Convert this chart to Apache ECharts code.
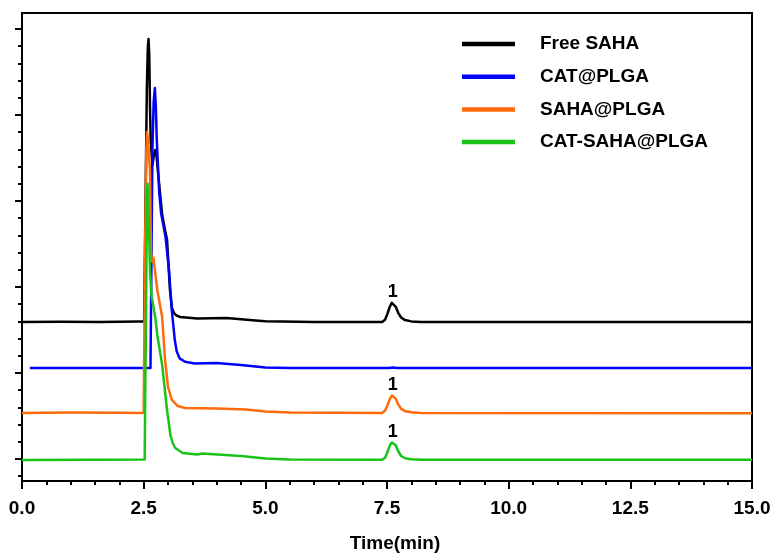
<!DOCTYPE html>
<html>
<head>
<meta charset="utf-8">
<script src="https://cdn.jsdelivr.net/npm/echarts@6/dist/echarts.min.js"></script>
<style>html,body{margin:0;padding:0;background:#fff}#c{width:773px;height:554px}</style>
</head>
<body>
<div id="c"></div>
<script>
// Series names (legend order)
const seriesNames = ['Free SAHA', 'CAT@PLGA', 'SAHA@PLGA', 'CAT-SAHA@PLGA'];
const seriesColors = ['#000000', '#0000ff', '#ff6a0a', '#18c418'];

// Time (min) / relative signal (stacked offsets, arbitrary units)
const freeSahaData = [
  [0, 1.593], [0.8, 1.596], [1.6, 1.593], [2.4, 1.598], [2.51, 1.598],
  [2.53, 2.6], [2.565, 4.3], [2.585, 4.78], [2.60, 4.884], [2.615, 4.7], [2.63, 4.1], [2.645, 3.7],
  [2.68, 3.42], [2.715, 3.55], [2.74, 3.593], [2.765, 3.52], [2.80, 3.30], [2.88, 2.84], [2.94, 2.66],
  [2.98, 2.55], [3.04, 1.965], [3.08, 1.756], [3.12, 1.70], [3.17, 1.67], [3.25, 1.651],
  [3.6, 1.634], [4.2, 1.64], [4.8, 1.61], [5.0, 1.602], [6.0, 1.593],
  [7.40, 1.593], [7.46, 1.62], [7.51, 1.69], [7.56, 1.775], [7.60, 1.815], [7.62, 1.822], [7.64, 1.815],
  [7.68, 1.77], [7.73, 1.70], [7.79, 1.645], [7.87, 1.615], [8.0, 1.600], [8.2, 1.593], [11, 1.593], [15, 1.593]
];
const catPlgaData = [
  [0.16, 1.058], [1.2, 1.058], [2.64, 1.058], [2.655, 2.0], [2.68, 3.6], [2.705, 4.15],
  [2.73, 4.314], [2.75, 4.1], [2.77, 3.7], [2.82, 3.1], [2.86, 2.85], [2.95, 2.58],
  [3.02, 2.2], [3.08, 1.72], [3.14, 1.38], [3.18, 1.25], [3.24, 1.17], [3.35, 1.13],
  [3.55, 1.11], [4.0, 1.116], [4.5, 1.093], [5.0, 1.064], [5.5, 1.058],
  [7.55, 1.058], [7.62, 1.065], [7.7, 1.058], [15, 1.058]
];
const sahaPlgaData = [
  [0, 0.535], [1.0, 0.540], [2.0, 0.537], [2.50, 0.535], [2.53, 2.5], [2.555, 3.6],
  [2.57, 3.802], [2.59, 3.7], [2.63, 3.36], [2.65, 2.40], [2.68, 2.29], [2.70, 2.34], [2.72, 2.36],
  [2.78, 1.965], [2.88, 1.651], [2.94, 1.151], [3.0, 0.837], [3.08, 0.686],
  [3.2, 0.616], [3.35, 0.593], [4.0, 0.587], [4.6, 0.576], [5.0, 0.552],
  [5.5, 0.541], [7.40, 0.535], [7.46, 0.56], [7.51, 0.625], [7.56, 0.70], [7.60, 0.738], [7.62, 0.744],
  [7.64, 0.738], [7.68, 0.70], [7.73, 0.635], [7.79, 0.585], [7.87, 0.556], [8.0, 0.543], [8.2, 0.535], [15, 0.532]
];
const catSahaPlgaData = [
  [0, -0.012], [1.5, -0.008], [2.52, -0.005], [2.545, 1.5], [2.57, 3.1], [2.58, 3.20],
  [2.60, 2.9], [2.63, 2.2], [2.66, 1.90], [2.70, 1.77], [2.74, 1.64],
  [2.78, 1.442], [2.88, 1.093], [2.98, 0.570], [3.05, 0.279], [3.10, 0.18], [3.15, 0.128],
  [3.3, 0.07], [3.6, 0.052], [3.7, 0.064], [4.5, 0.035], [5.0, 0.006],
  [5.5, -0.006], [7.40, -0.01], [7.46, 0.015], [7.51, 0.08], [7.56, 0.16], [7.60, 0.192], [7.62, 0.198],
  [7.64, 0.192], [7.68, 0.16], [7.73, 0.09], [7.79, 0.035], [7.87, 0.008], [8.0, -0.004], [8.2, -0.01], [15, -0.01]
];
const allData = [freeSahaData, catPlgaData, sahaPlgaData, catSahaPlgaData];

// Peak annotation "1": series index and peak time
const peakLabelText = '1';
const peakLabelSeries = [0, 2, 3];
const peakLabelTime = 7.62;

// Axis ticks
const xTickLabels = ['0.0', '2.5', '5.0', '7.5', '10.0', '12.5', '15.0'];
const yMajorTicks = [0, 1, 2, 3, 4, 5];
const yMinorTicks = [-0.2, 0.2, 0.4, 0.6, 0.8, 1.2, 1.4, 1.6, 1.8, 2.2, 2.4, 2.6, 2.8,
  3.2, 3.4, 3.6, 3.8, 4.2, 4.4, 4.6, 4.8];
const yMin = -0.256, yMax = 5.186;

const FONT = '"Liberation Sans", Arial, sans-serif';
const chart = echarts.init(document.getElementById('c'), null, {renderer: 'canvas'});

const series = allData.map((d, i) => {
  const s = {
    name: seriesNames[i],
    type: 'line',
    symbol: 'none',
    color: seriesColors[i],
    lineStyle: {color: seriesColors[i], width: 2.5, join: 'round'},
    itemStyle: {color: seriesColors[i]},
    data: d
  };
  if (peakLabelSeries.includes(i)) {
    const peak = d.find(p => p[0] === peakLabelTime);
    s.markPoint = {
      symbol: 'circle', symbolSize: 0, silent: true,
      label: {show: true, position: 'top', distance: 1, formatter: peakLabelText,
        color: '#000', fontSize: 18, fontWeight: 'bold', fontFamily: FONT},
      data: [{coord: peak, value: peakLabelText}]
    };
  }
  return s;
});

chart.setOption({
  animation: false,
  backgroundColor: '#fff',
  grid: {left: 22, right: 21, top: 13, bottom: 73, show: true, borderColor: '#000', borderWidth: 2,
    containLabel: false, outerBoundsMode: 'none'},
  legend: {
    orient: 'vertical', left: 462, top: 34, padding: 0,
    itemWidth: 53, itemHeight: 4.5, itemGap: 12.7, icon: 'rect',
    data: seriesNames,
    textStyle: {color: '#000', fontSize: 19, fontWeight: 'bold', fontFamily: FONT, lineHeight: 20, padding: [0, 0, 0, 20]}
  },
  xAxis: {
    type: 'value', min: 0, max: 15, interval: 2.5,
    name: 'Time(min)', nameLocation: 'middle', nameGap: 53,
    nameTextStyle: {color: '#000', fontSize: 19, fontWeight: 'bold', fontFamily: FONT, padding: [0, 0, 0, 16]},
    axisLine: {show: true, onZero: false, lineStyle: {color: '#000', width: 2}},
    axisTick: {show: true, length: 8, lineStyle: {color: '#000', width: 2}},
    minorTick: {show: true, splitNumber: 5, length: 4, lineStyle: {color: '#000', width: 2}},
    axisLabel: {show: true, margin: 18, color: '#000', fontSize: 19, fontWeight: 'bold', fontFamily: FONT,
      formatter: v => xTickLabels[Math.round(v / 2.5)]},
    splitLine: {show: false}
  },
  yAxis: [
    {
      type: 'value', min: yMin, max: yMax, position: 'left',
      axisLine: {show: true, onZero: false, lineStyle: {color: '#000', width: 2}},
      axisTick: {show: true, length: 7, customValues: yMajorTicks, lineStyle: {color: '#000', width: 2}},
      axisLabel: {show: false},
      splitLine: {show: false}
    },
    {
      type: 'value', min: yMin, max: yMax, position: 'left', offset: 0,
      axisLine: {show: false},
      axisTick: {show: true, length: 4, customValues: yMinorTicks, lineStyle: {color: '#000', width: 2}},
      axisLabel: {show: false},
      splitLine: {show: false}
    }
  ],
  series: series
});
</script>
</body>
</html>
